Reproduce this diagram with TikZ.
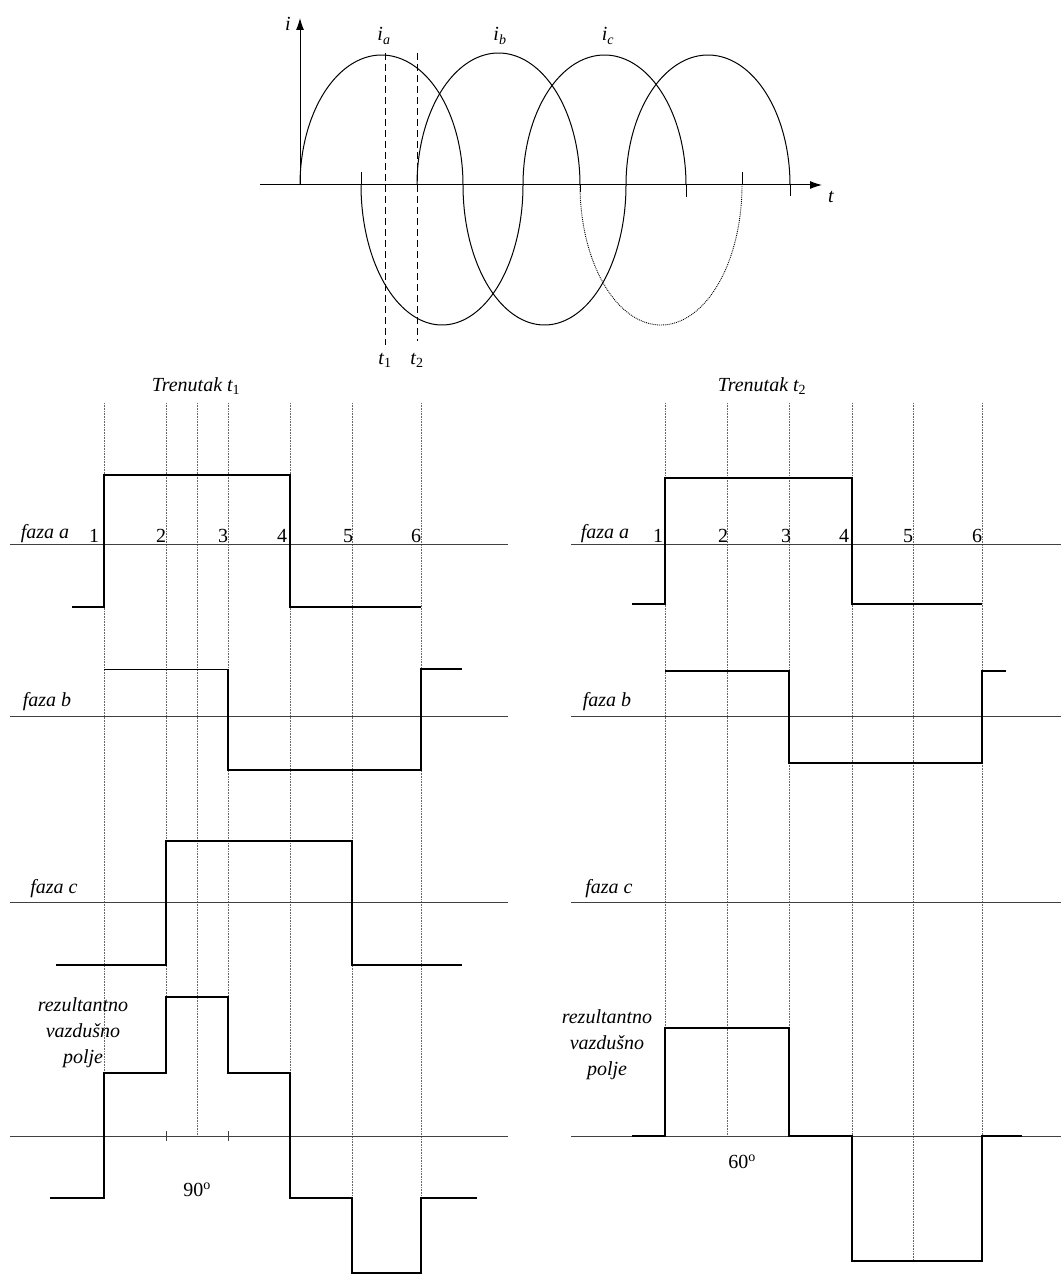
\documentclass[tikz,border=0pt]{standalone}
\usepackage{fontspec}
\setmainfont{Liberation Serif}
\usetikzlibrary{arrows.meta}
\begin{document}
\begin{tikzpicture}[x=1pt,y=-1pt,
  axisline/.style={line width=0.8pt, black!75},
  gridline/.style={densely dotted, line width=0.6pt, black!60},
  wave/.style={line width=2.4pt, line join=miter},
  thinwave/.style={line width=1pt},
  curve/.style={line width=1pt},
  tmark/.style={dash pattern=on 7pt off 4pt, line width=0.8pt},
  lbl/.style={font=\fontsize{20}{26}\selectfont\itshape, inner sep=0pt, align=center},
  num/.style={font=\fontsize{20}{22}\selectfont, inner sep=0pt},
]
\useasboundingbox (0,0) rectangle (1061,1276);

% ---------------- top graph ----------------
\coordinate (t0) at (260,185);
\coordinate (t1end) at (822,185);
\coordinate (i0) at (300,185);
\coordinate (i1) at (300,18);
\draw[line width=1pt, -{Latex[length=12pt,width=8pt]}] (t0) -- (t1end);
\draw[line width=1pt, -{Latex[length=12pt,width=8pt]}] (i0) -- (i1);
\node[lbl] (ilab) at (288,24) {i};
\node[lbl] (tlab) at (831,197) {t};
\node[lbl] (ialab) at (384,36) {i\textsubscript{a}};
\node[lbl] (iblab) at (500,36) {i\textsubscript{b}};
\node[lbl] (iclab) at (608,36) {i\textsubscript{c}};

% phase a
\draw[curve] plot[domain=180:0, samples=90, smooth] ({381.5+81.5*cos(\x)}, {185-130*sin(\x)});
\draw[curve] plot[domain=180:360, samples=90, smooth] ({544.5+81.5*cos(\x)}, {185-140*sin(\x)});
\draw[curve] plot[domain=180:0, samples=90, smooth] ({708+82*cos(\x)}, {185-130*sin(\x)});
\draw[curve] (790,185) -- (790,196);
% phase b
\draw[curve] plot[domain=180:0, samples=90, smooth] ({498.5+81.5*cos(\x)}, {185-132*sin(\x)});
\draw[curve] (580,185) -- (580,192);
\draw[densely dotted, line width=0.9pt] plot[domain=180:360, samples=90, smooth] ({661+81*cos(\x)}, {185-140*sin(\x)});
\draw[curve] (742,185) -- (742,172);
% phase c
\draw[curve] (361,172) -- (361,185);
\draw[curve] plot[domain=180:360, samples=90, smooth] ({442+81*cos(\x)}, {185-140*sin(\x)});
\draw[curve] plot[domain=180:0, samples=90, smooth] ({604.5+81.5*cos(\x)}, {185-130*sin(\x)});
\draw[curve] (686,185) -- (686,197);

% instants
\coordinate (ta) at (385,53);
\coordinate (tb) at (385,345);
\coordinate (tc) at (417,53);
\coordinate (td) at (417,341);
\draw[tmark] (ta) -- (tb);
\draw[tmark] (tc) -- (td);
\node[lbl] (t1lab) at (385,360) {t\textsubscript{\upshape 1}};
\node[lbl] (t2lab) at (417,360) {t\textsubscript{\upshape 2}};

% ---------------- left panel ----------------
\node[lbl] (trenL) at (196,386) {Trenutak t\textsubscript{\upshape 1}};
\foreach \x/\b in {104/1073, 166/1073, 197/1136, 228/1073, 290/1073, 352/1198, 421/1198}
  \draw[gridline] (\x,403) -- (\x,\b);
\foreach \y in {544,716,902,1136}
  \draw[axisline] (10,\y) -- (508,\y);
\draw[axisline] (166,1131) -- (166,1141);
\draw[axisline] (228,1131) -- (228,1141);

\node[lbl] (faL) at (45,534) {faza a};
\node[lbl] (fbL) at (47,702) {faza b};
\node[lbl] (fcL) at (54,889) {faza c};
\node[lbl] (resL) at (83,1033) {rezultantno\\vazdušno\\polje};
\foreach \x/\n in {94/1,161/2,223/3,282/4,348/5,416/6}
  \node[num] (nL\n) at (\x,536) {\n};
\node[num] (degL) at (197,1190) {90\textsuperscript{o}};

\draw[wave] (72,607) -| (104,475) -| (290,607) -- (421,607);
\draw[thinwave] (104,669) -- (228,669);
\draw[wave] (228,669) -- (228,770) -- (421,770) -- (421,669) -- (462,669);
\draw[wave] (56,965) -| (166,841) -| (352,965) -- (462,965);
\draw[wave] (50,1198) -| (104,1073) -| (166,997) -| (228,1073) -| (290,1198) -| (352,1273) -| (421,1198) -- (477,1198);

% ---------------- right panel ----------------
\node[lbl] (trenR) at (762,386) {Trenutak t\textsubscript{\upshape 2}};
\foreach \x/\b in {665/1028, 727/1136, 789/1028, 852/1136, 913/1261, 982/1136}
  \draw[gridline] (\x,403) -- (\x,\b);
\foreach \y in {544,716,902,1136}
  \draw[axisline] (571,\y) -- (1061,\y);

\node[lbl] (faR) at (605,534) {faza a};
\node[lbl] (fbR) at (607,702) {faza b};
\node[lbl] (fcR) at (609,889) {faza c};
\node[lbl] (resR) at (607,1045) {rezultantno\\vazdušno\\polje};
\foreach \x/\n in {658/1,723/2,786/3,844/4,908/5,977/6}
  \node[num] (nR\n) at (\x,536) {\n};
\node[num] (degR) at (742,1162) {60\textsuperscript{o}};

\draw[wave] (632,604) -| (665,478) -| (852,604) -- (982,604);
\draw[wave] (665,671) -| (789,763) -| (982,671) -- (1006,671);
\draw[wave] (632,1136) -| (665,1028) -| (789,1136) -| (852,1261) -| (982,1136) -- (1022,1136);
\end{tikzpicture}
\end{document}
